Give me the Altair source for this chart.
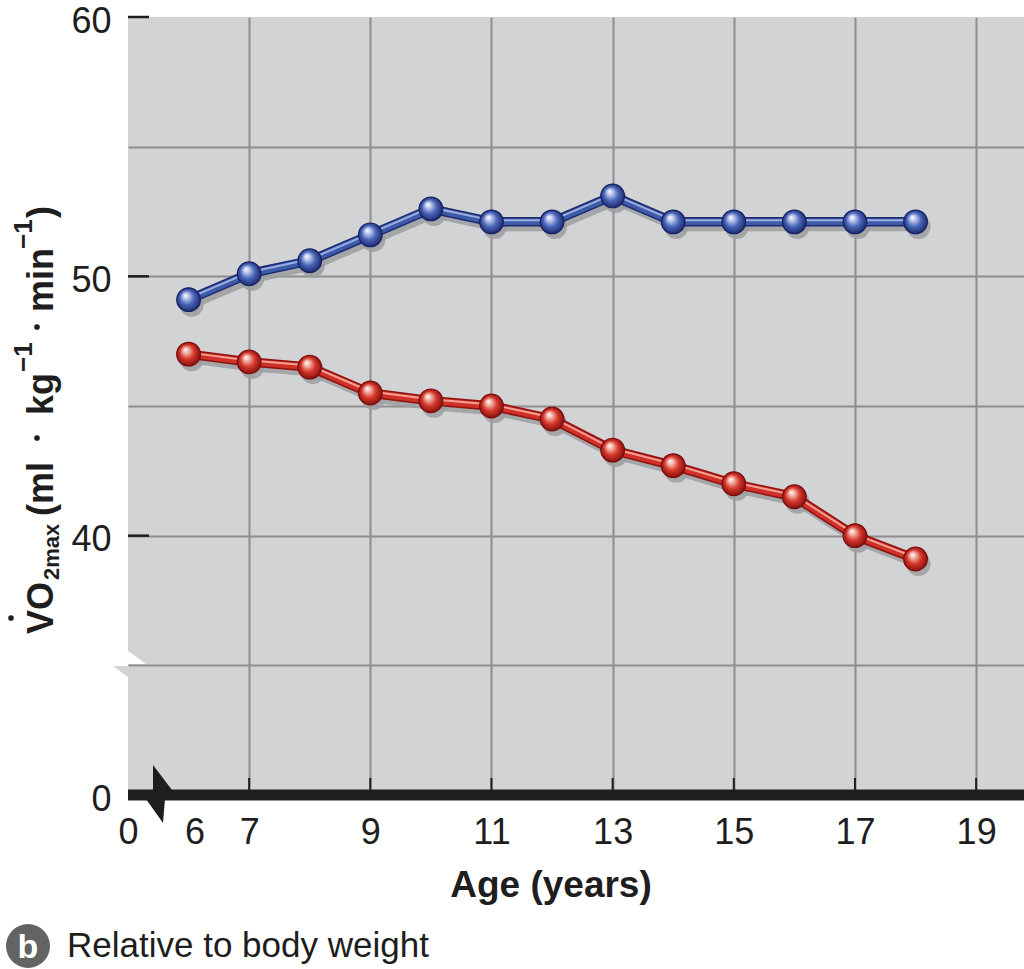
import altair as alt
import pandas as pd

# ---------------- data ----------------
ages = [6, 7, 8, 9, 10, 11, 12, 13, 14, 15, 16, 17, 18]
boys = [49.1, 50.1, 50.6, 51.6, 52.6, 52.1, 52.1, 53.1, 52.1, 52.1, 52.1, 52.1, 52.1]
girls = [47.0, 46.7, 46.5, 45.5, 45.2, 45.0, 44.5, 43.3, 42.7, 42.0, 41.5, 40.0, 39.1]

x_tick_values = [5, 6, 7, 9, 11, 13, 15, 17, 19]
x_tick_labels = ["0", "6", "7", "9", "11", "13", "15", "17", "19"]
x_grid_values = [7, 9, 11, 13, 15, 17, 19]
y_tick_values = [30, 35, 40, 45, 50, 55, 60]
y_tick_labels = ["0", "", "40", "", "50", "", "60"]
y_major_ticks = [40, 50, 60]

# ---------------- layout ----------------
W, H = 896, 778
PAD_L, PAD_T = 128, 17
X_DOMAIN = [5, 5 + W / 60.58]
Y_DOMAIN = [30, 60]

PLOT_BG = "#d2d3d5"
GRID = "#8e8e8e"
INK = "#1e1e1e"

boys_df = pd.DataFrame({"age": ages, "vo2": boys})
girls_df = pd.DataFrame({"age": ages, "vo2": girls})

xscale = alt.Scale(domain=X_DOMAIN, nice=False, zero=False)
yscale = alt.Scale(domain=Y_DOMAIN, nice=False, zero=False)


def label_expr(values, labels):
    expr = "''"
    for v, l in reversed(list(zip(values, labels))):
        expr = f"datum.value == {v} ? '{l}' : ({expr})"
    return expr


x_axis = alt.Axis(
    values=x_tick_values,
    labelExpr=label_expr(x_tick_values, x_tick_labels),
    grid=True,
    gridColor={"condition": {"test": "datum.value == 5 || datum.value == 6", "value": "transparent"}, "value": GRID},
    gridWidth=2,
    domain=False,
    ticks=False,
    tickSize=0,
    labelPadding=20,
    labelFontSize=36,
    labelFont="Liberation Sans",
    labelColor=INK,
    labelFlush=False,
    labelOverlap=False,
    labelOffset={"condition": {"test": "datum.value == 6", "value": 6}, "value": 0},
    title=None,
)
y_axis = alt.Axis(
    values=y_tick_values,
    labelExpr=label_expr(y_tick_values, y_tick_labels),
    grid=True,
    gridColor={"condition": {"test": "datum.value == 30 || datum.value == 60", "value": "transparent"}, "value": GRID},
    gridWidth=2,
    domain=False,
    ticks=False,
    tickSize=0,
    labelPadding=17,
    labelFontSize=36,
    labelFont="Liberation Sans",
    labelColor=INK,
    labelFlush=False,
    labelOverlap=False,
    labelOffset=4,
    title=None,
)

one = alt.Data(values=[{"k": 1}])


def X(field):
    return alt.X(field, type="quantitative", scale=xscale, axis=x_axis)


def Y(field):
    return alt.Y(field, type="quantitative", scale=yscale, axis=y_axis)


def xy():
    return dict(x=X("age"), y=Y("vo2"))


def sphere(light, mid, dark):
    return {
        "gradient": "radial",
        "x1": 0.36, "y1": 0.3, "r1": 0,
        "x2": 0.5, "y2": 0.5, "r2": 0.55,
        "stops": [
            {"offset": 0, "color": "#ffffff"},
            {"offset": 0.18, "color": light},
            {"offset": 0.55, "color": mid},
            {"offset": 1, "color": dark},
        ],
    }


def series(df, dark, mid, hi, light, ball_mid, ball_dark):
    c = alt.Chart(df)
    shadow_line = c.mark_line(color="#9c9da0", strokeWidth=9, xOffset=3, yOffset=5, opacity=0.85).encode(**xy())
    shadow_pts = c.mark_point(filled=True, color="#9c9da0", size=580, xOffset=3, yOffset=5, opacity=0.85, shape="circle").encode(**xy())
    line_dark = c.mark_line(color=dark, strokeWidth=9.5).encode(**xy())
    line_mid = c.mark_line(color=mid, strokeWidth=6.5).encode(**xy())
    line_hi = c.mark_line(color=hi, strokeWidth=2, yOffset=-1.5).encode(**xy())
    pts = c.mark_point(
        filled=True, shape="circle", size=560,
        fill=sphere(light, ball_mid, ball_dark),
        stroke=ball_dark, strokeWidth=1.2, opacity=1,
    ).encode(**xy())
    return [shadow_line, shadow_pts, line_dark, line_mid, line_hi, pts]


blue_layers = series(boys_df, "#1d2b72", "#3f5aa8", "#9aaee0", "#c9d3f2", "#4965b8", "#172163")
red_layers = series(girls_df, "#8e1210", "#cf3027", "#f5a093", "#f6c4b9", "#d6372b", "#7a0c0c")

# thick x axis line
axis_line = alt.Chart(one).mark_rule(color=INK, strokeWidth=11).encode(
    x=alt.value(0), x2=alt.value(W), y=alt.value(H)
)
# small inner ticks on x axis
xt_df = pd.DataFrame({"t": x_grid_values})
x_small_ticks = alt.Chart(xt_df).mark_rule(color=INK, strokeWidth=2).encode(
    x=X("t"), y=alt.value(H - 17), y2=alt.value(H - 5)
)
# inward y ticks
yt_df = pd.DataFrame({"t": y_major_ticks})
y_small_ticks = alt.Chart(yt_df).mark_rule(color=INK, strokeWidth=2.5).encode(
    y=Y("t"), x=alt.value(0), x2=alt.value(21)
)

# axis break symbols
bolt_path = "M -0.155 -1 L 0.5 -0.138 L -0.155 -0.138 Z M -0.397 0.172 L 0.259 0.172 L 0.19 1 Z"
bolt = alt.Chart(one).mark_point(shape=bolt_path, filled=True, color=INK, size=58 * 58, opacity=1).encode(
    x=alt.value(157.5 - PAD_L), y=alt.value(794 - PAD_T)
)
notch_white = alt.Chart(one).mark_point(
    shape="M -1 -0.737 L -1 0.737 L 1 0.737 Z", filled=True, color="#ffffff", size=361, opacity=1
).encode(x=alt.value(136.5 - PAD_L), y=alt.value(657 - PAD_T))
notch_gray = alt.Chart(one).mark_point(
    shape="M -1 -0.75 L 1 -0.75 L 1 0.75 Z", filled=True, color=PLOT_BG, size=256, opacity=1
).encode(x=alt.value(121 - PAD_L), y=alt.value(672 - PAD_T))


def text_at(txt, x_abs, y_abs, size, **kw):
    return alt.Chart(one).mark_text(text=txt, fontSize=size, **kw).encode(
        x=alt.value(x_abs - PAD_L), y=alt.value(y_abs - PAD_T)
    )


TITLE_FONT = "Liberation Sans"
# y title pieces: (text, baseline x, start y, size)
ytitle_pieces = [
    ("VO", 53, 634, 36),
    ("2max", 59, 580, 22),
    ("(ml", 53, 516, 36),
    ("kg", 53, 415, 36),
    ("\u22121", 32, 372, 26),
    ("min", 53, 312, 36),
    ("\u22121", 32, 249, 26),
    (")", 53, 218, 36),
]
ytitle_layers = [
    text_at(t, x, y, s, angle=270, align="left", baseline="alphabetic",
            font=TITLE_FONT, fontWeight="bold", color=INK)
    for (t, x, y, s) in ytitle_pieces
]
dots = [
    alt.Chart(one).mark_point(shape="circle", filled=True, color=INK, size=s, opacity=1).encode(
        x=alt.value(x - PAD_L), y=alt.value(y - PAD_T))
    for (x, y, s) in [(11, 618, 32), (37, 438, 32), (37, 327, 32)]
]

x_title = text_at("Age (years)", 551, 897, 37, align="center", baseline="alphabetic",
                  font="Liberation Sans", fontWeight="bold", color=INK)
badge = alt.Chart(one).mark_point(shape="circle", filled=True, color="#636363", size=44 * 44, opacity=1).encode(
    x=alt.value(28 - PAD_L), y=alt.value(946 - PAD_T)
)
badge_b = text_at("b", 28, 958, 34, align="center", baseline="alphabetic",
                  font="Liberation Sans", fontWeight="bold", color="#ffffff")
caption = text_at("Relative to body weight", 67, 957, 35, align="left", baseline="alphabetic",
                  font="Liberation Sans", color=INK)

chart = alt.layer(
    notch_gray,
    *blue_layers,
    *red_layers,
    x_small_ticks,
    axis_line,
    bolt,
    notch_white,
    y_small_ticks,
    *ytitle_layers,
    *dots,
    x_title,
    badge,
    badge_b,
    caption,
).properties(
    width=W,
    height=H,
    autosize=alt.AutoSizeParams(type="none"),
    padding={"left": PAD_L, "top": PAD_T, "right": 0, "bottom": 969 - PAD_T - H},
    background="#ffffff",
).configure_view(fill=PLOT_BG, strokeWidth=0)

chart.save("out.html", embed_options={"renderer": "svg", "actions": False})
